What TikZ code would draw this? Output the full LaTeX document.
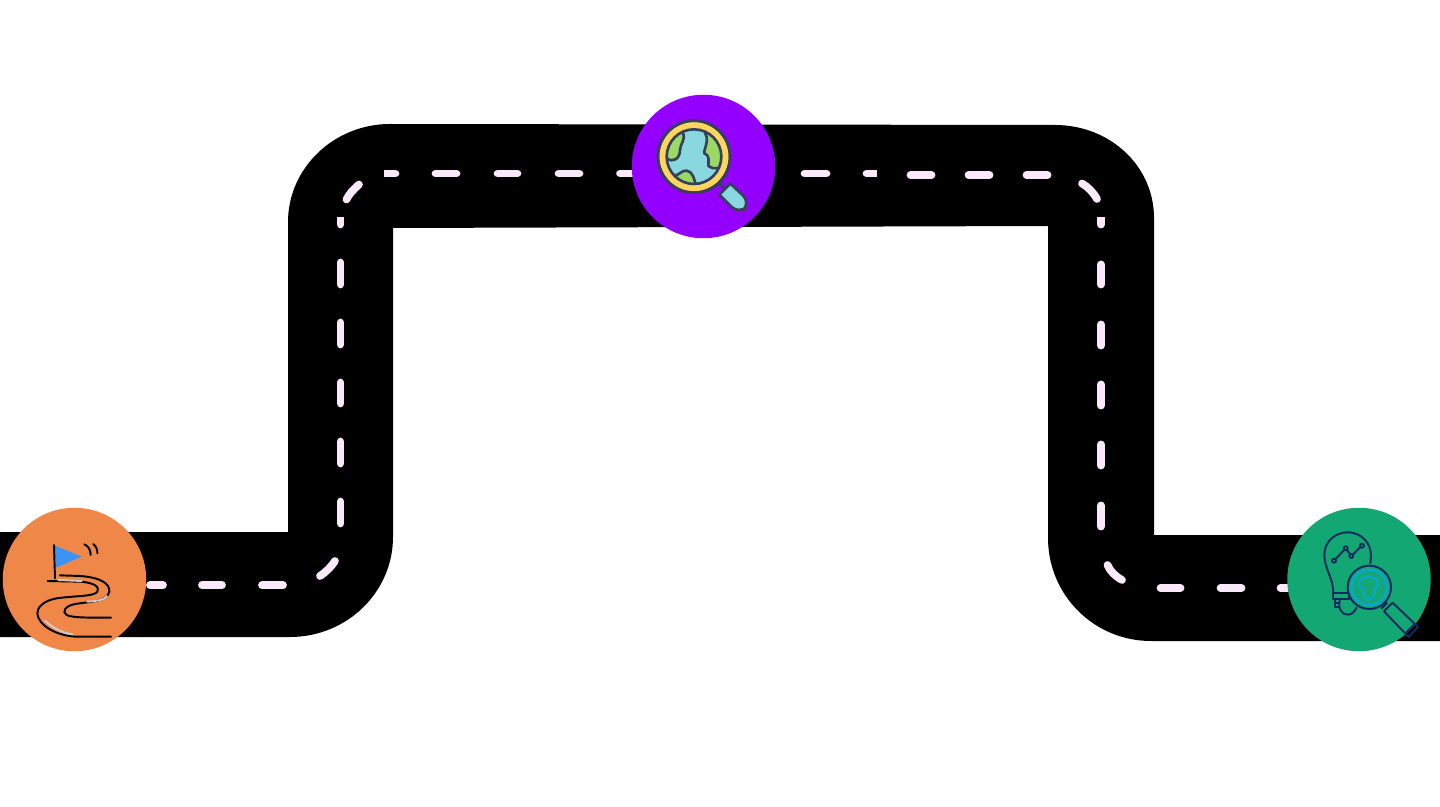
\documentclass[tikz,border=0pt]{standalone}
\usepackage{tikz}
\definecolor{markpink}{HTML}{FAE9FB}
\definecolor{stoporange}{HTML}{EE8748}
\definecolor{stoppurple}{HTML}{9400FF}
\definecolor{stopgreen}{HTML}{13A873}
\definecolor{flagblue}{HTML}{3B94F5}
\definecolor{glassink}{HTML}{34405C}
\definecolor{glassring}{HTML}{FFD55F}
\definecolor{glasssea}{HTML}{8AD8DF}
\definecolor{glassland}{HTML}{9BD865}
\definecolor{bulbink}{HTML}{0E2A5E}
\definecolor{bulbcyan}{HTML}{08A5D6}
\tikzset{
  roadmark/.style={markpink, line width=4.4pt, line cap=round},
  roadflat/.style={markpink, line width=4.4pt},
  stopdisc/.style={circle, minimum size=2.87cm, inner sep=0pt},
  trackline/.style={black, line width=1.1pt, line cap=round},
  trackshine/.style={black!20, line width=1.1pt, line cap=round},
  glassline/.style={glassink, line width=1.5pt, line join=round},
  bulbline/.style={bulbink, line width=1.1pt, line join=round}
}
\begin{document}
\begin{tikzpicture}[x=0.02cm, y=-0.02cm]
      \useasboundingbox (0, 0) rectangle (1440, 807);
      % road
      \fill [black] (0, 532) -- (288, 532) -- (288, 222)
        .. controls (288, 168) and (334, 124) .. (390, 124) -- (1055, 125)
        .. controls (1110, 125) and (1154, 166) .. (1154, 218) -- (1154, 535)
        -- (1440, 535) -- (1440, 641) -- (1151, 641)
        .. controls (1094, 641) and (1048, 595) .. (1048, 538) -- (1048, 226)
        -- (393, 228) -- (393, 537)
        .. controls (393, 592) and (347, 637) .. (290, 637) -- (0, 637) -- cycle;
      % road markings
      \foreach \a/\b in {150/163, 202/222, 262/283}
        \draw [roadmark] (\a, 585.3) -- (\b, 585.3);
      \foreach \a/\b in {388/395.5, 435.5/456.5, 497.5/517.5, 558.5/579.5, 620/640}
        \draw [roadmark] (\a, 173.5) -- (\b, 173.5);
      \foreach \a/\b in {804.5/826.5, 866.5/873}
        \draw [roadmark] (\a, 173.5) -- (\b, 173.5);
      \foreach \a/\b in {910.5/931.5, 968.5/989.5, 1026.5/1047.5}
        \draw [roadmark] (\a, 175) -- (\b, 175);
      \foreach \a/\b in {221/224.5, 262.5/284.5, 322.5/344.5, 382.5/403.5, 441.5/463.5, 501.5/523.5}
        \draw [roadmark] (340.4, \a) -- (340.4, \b);
      \foreach \a/\b in {221/224.5, 264.5/284.5, 324.5/345.5, 384.5/405.5, 444.5/465.5, 505.5/526.5}
        \draw [roadmark] (1101, \a) -- (1101, \b);
      \foreach \a/\b in {1160.5/1180.5, 1220.5/1241.5, 1280.5/1295}
        \draw [roadmark] (\a, 588) -- (\b, 588);
      \draw [roadflat] (340.4, 217) -- (340.4, 222);
      \draw [roadflat] (1101, 217) -- (1101, 222);
      \draw [roadflat] (384, 173.5) -- (389, 173.5);
      \draw [roadflat] (872, 173.5) -- (877, 173.5);
      \draw [roadmark] (320, 576) .. controls (326, 572) and (331, 567) .. (335, 561);
      \draw [roadmark] (346.5, 199.5) .. controls (349, 194) and (353, 190) .. (359, 184.5);
      \draw [roadmark] (1082, 183.5) .. controls (1088, 187) and (1093, 192) .. (1097, 199);
      \draw [roadmark] (1107.5, 565) .. controls (1110, 571) and (1115, 576) .. (1122, 580);
      % stops
      \node [stopdisc, fill=stoporange] (startstop) at (74.5, 579.5) {};
      \node [stopdisc, fill=stoppurple] (searchstop) at (703.5, 166.5) {};
      \node [stopdisc, fill=stopgreen] (insightstop) at (1359, 579.5) {};
      % flag and winding track
      \begin{scope}[shift={(0, 500)}, scale=1/3]
        \fill [flagblue] (165, 137) -- (245, 170) -- (168, 203) -- cycle;
        \draw [trackline] (162, 135) -- (165, 235);
        \draw [trackline] (253, 133) .. controls (265, 138) and (272, 150) .. (272, 165);
        \draw [trackline] (280, 132) .. controls (288, 138) and (293, 150) .. (292, 160);
        \draw [trackline] (143, 243) -- (240, 245) .. controls (285, 248) and (300, 262) .. (292, 275)
          .. controls (282, 290) and (225, 287) .. (170, 295)
          .. controls (130, 302) and (112, 322) .. (112, 340)
          .. controls (114, 375) and (170, 410) .. (235, 410) -- (333, 410);
        \draw [trackline] (180, 226) -- (240, 228) .. controls (300, 232) and (330, 250) .. (328, 275)
          .. controls (322, 305) and (270, 305) .. (225, 312)
          .. controls (195, 318) and (185, 335) .. (200, 345)
          .. controls (215, 354) and (280, 353) .. (333, 353);
        \draw [trackshine] (175, 240) -- (245, 243);
        \draw [trackshine] (262, 305) .. controls (295, 303) and (315, 298) .. (321, 288);
        \draw [trackshine] (135, 362) .. controls (160, 385) and (190, 400) .. (218, 403);
      \end{scope}
      % globe under a magnifying glass
      \begin{scope}[shift={(625, 90)}, scale=1/3]
        \draw [glassline] (283, 279) -- (310, 306);
        \draw [glassline, fill=glasssea] (316, 281) -- (283, 314) [rounded corners=6pt] -- (342, 373) -- (377, 338) [sharp corners] -- cycle;
        \draw [glassline, fill=glassring] (207, 200) circle (108);
        \fill [glasssea] (207, 200) circle (82);
        \begin{scope}
          \clip (207, 200) circle (82);
          \draw [glassline, fill=glassland] (172, 125) .. controls (185, 150) and (165, 160) .. (165, 180)
            .. controls (165, 205) and (145, 220) .. (125, 205) -- (110, 150) -- cycle;
          \draw [glassline, fill=glassland] (240, 130) .. controls (255, 150) and (235, 180) .. (238, 190)
            .. controls (255, 195) and (250, 215) .. (250, 228) .. controls (265, 240) and (285, 235) .. (300, 225) -- (300, 130) -- cycle;
          \draw [glassline, fill=glassland] (145, 258) .. controls (165, 255) and (170, 240) .. (185, 242)
            .. controls (205, 245) and (205, 265) .. (215, 290) -- (150, 295) -- cycle;
        \end{scope}
        \draw [glassline] (207, 200) circle (82);
        \draw [glassline] (207, 200) circle (108);
      \end{scope}
      % bulb with a magnifying glass
      \begin{scope}[shift={(1280, 500)}, scale=1/3]
        \draw [bulbline] (160, 278) .. controls (160, 235) and (133, 205) .. (133, 165)
          .. controls (133, 125) and (165, 97) .. (203, 97)
          .. controls (240, 97) and (272, 125) .. (273, 165) -- (271, 192);
        \draw [bulbline] (160, 278) rectangle (207, 297);
        \draw [bulbline] (165, 297) -- (165, 322) -- (180, 322);
        \draw [bulbline] (165, 310) -- (180, 310);
        \draw [bulbline] (180, 297) .. controls (172, 325) and (185, 344) .. (203, 344)
          .. controls (215, 344) and (225, 335) .. (230, 322);
        \draw [bulbline] (162, 182) -- (197, 145) -- (214, 168) -- (246, 137);
        \foreach \a/\b in {162/182, 197/145, 214/168, 246/137}
          \draw [bulbline, fill=stopgreen] (\a, \b) circle (6);
        \draw [bulbline, fill=stopgreen] (268, 262) circle (65);
        \draw [bulbcyan, line width=1.3pt] (268, 262) circle (53);
        \draw [bulbcyan, line width=1.1pt] (250, 262) .. controls (240, 265) and (232, 255) .. (238, 245)
          .. controls (238, 235) and (248, 232) .. (254, 235) .. controls (262, 222) and (272, 228) .. (276, 235)
          .. controls (290, 232) and (298, 245) .. (294, 255) .. controls (294, 262) and (290, 265) .. (286, 265)
          .. controls (284, 288) and (274, 300) .. (266, 300) .. controls (256, 300) and (248, 285) .. (250, 262);
        \draw [bulbline] (322, 308) -- (304, 326);
        \draw [bulbline] (338, 308) -- (312, 334) -- (386, 411) -- (414, 381) -- cycle;
        \draw [bulbline] (376, 400) -- (404, 372);
      \end{scope}
    \end{tikzpicture}
\end{document}
